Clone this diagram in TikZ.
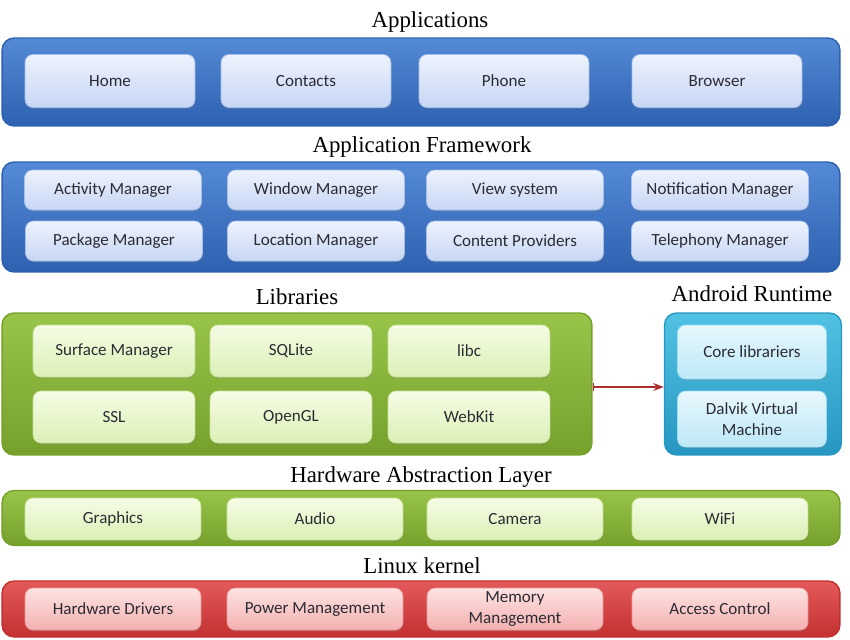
\documentclass[tikz,border=0pt]{standalone}
\usepackage{fontspec}
\setmainfont{Liberation Serif}
\newfontfamily\boxfont{Carlito}
\usepackage{xcolor}
\usetikzlibrary{arrows.meta,shadows}
\definecolor{bleu1}{rgb}{0.33,0.54,0.84}
\definecolor{bleu2}{rgb}{0.18,0.38,0.69}
\definecolor{bleu3}{rgb}{0.93,0.95,0.99}
\definecolor{bleu4}{rgb}{0.78,0.84,0.96}
\definecolor{vert1}{rgb}{0.60,0.77,0.29}
\definecolor{vert2}{rgb}{0.46,0.63,0.17}
\definecolor{vert3}{rgb}{0.96,0.99,0.90}
\definecolor{vert4}{rgb}{0.86,0.94,0.71}
\definecolor{rouge1}{rgb}{0.89,0.35,0.35}
\definecolor{rouge2}{rgb}{0.77,0.19,0.19}
\definecolor{rouge3}{rgb}{0.99,0.89,0.89}
\definecolor{rouge4}{rgb}{0.96,0.69,0.69}
\definecolor{cyan1}{rgb}{0.32,0.76,0.89}
\definecolor{cyan2}{rgb}{0.15,0.59,0.76}
\definecolor{cyan3}{rgb}{0.91,0.97,0.99}
\definecolor{cyan4}{rgb}{0.74,0.91,0.97}
\definecolor{texte}{rgb}{0.17,0.17,0.2}
\definecolor{fleche}{rgb}{0.68,0.18,0.18}
\begin{document}
\begin{tikzpicture}[x=0.02cm,y=-0.02cm,
		band/.style={rounded corners=0.24cm, line width=0.8pt, minimum height=#1},
		blueband/.style={band=#1, draw=bleu2, top color=bleu1, bottom color=bleu2},
		greenband/.style={band=#1, draw=vert2, top color=vert1, bottom color=vert2},
		redband/.style={band=#1, draw=rouge2, top color=rouge1, bottom color=rouge2},
		cyanband/.style={band=#1, draw=cyan2, top color=cyan1, bottom color=cyan2},
		item/.style={rounded corners=0.16cm, line width=0.4pt, align=center, inner sep=1pt,
			font=\boxfont\fontsize{9.7}{12.3}\selectfont, text=texte,
			drop shadow={opacity=0.35, shadow xshift=0.4pt, shadow yshift=-0.8pt}},
		blueitem/.style={item, draw=bleu4!70!bleu1, top color=bleu3, bottom color=bleu4},
		greenitem/.style={item, draw=vert4!70!vert1, top color=vert3, bottom color=vert4},
		reditem/.style={item, draw=rouge4!70!rouge1, top color=rouge3, bottom color=rouge4},
		cyanitem/.style={item, draw=cyan4!70!cyan1, top color=cyan3, bottom color=cyan4},
		layer/.style={font=\fontsize{13}{15}\selectfont, text=black}]
			
			\useasboundingbox (0,0) rectangle (850,640);
			
			% Applications
			\node[layer] (tapp) at (430,22) {Applications};
			\node[blueband=1.76cm, minimum width=16.76cm] (app) at (421,82) {};
			\node[blueitem, minimum width=3.4cm, minimum height=1.06cm] (home) at (110,81) {Home};
			\node[blueitem, minimum width=3.4cm, minimum height=1.06cm] (contacts) at (306,81) {Contacts};
			\node[blueitem, minimum width=3.4cm, minimum height=1.06cm] (phone) at (504,81) {Phone};
			\node[blueitem, minimum width=3.4cm, minimum height=1.06cm] (browser) at (717,81) {Browser};
			
			% Application Framework
			\node[layer] (tfw) at (422,147) {Application Framework};
			\node[blueband=2.2cm, minimum width=16.76cm] (fw) at (421,217) {};
			\node[blueitem, minimum width=3.54cm, minimum height=0.8cm] (activity) at (113,190) {Activity Manager};
			\node[blueitem, minimum width=3.54cm, minimum height=0.8cm] (window) at (316,190) {Window Manager};
			\node[blueitem, minimum width=3.54cm, minimum height=0.8cm] (view) at (515,190) {View system};
			\node[blueitem, minimum width=3.54cm, minimum height=0.8cm] (notif) at (720,190) {Notification Manager};
			\node[blueitem, minimum width=3.54cm, minimum height=0.8cm] (package) at (114,241) {Package Manager};
			\node[blueitem, minimum width=3.54cm, minimum height=0.8cm] (location) at (316,241) {Location Manager};
			\node[blueitem, minimum width=3.54cm, minimum height=0.8cm] (content) at (515,241) {Content Providers};
			\node[blueitem, minimum width=3.54cm, minimum height=0.8cm] (telephony) at (720,241) {Telephony Manager};
			
			% Libraries
			\node[layer] (tlib) at (297,297) {Libraries};
			\node[greenband=2.84cm, minimum width=11.8cm] (lib) at (297,384) {};
			\node[greenitem, minimum width=3.24cm, minimum height=1.04cm] (surface) at (114,351) {Surface Manager};
			\node[greenitem, minimum width=3.24cm, minimum height=1.04cm] (sqlite) at (291,351) {SQLite};
			\node[greenitem, minimum width=3.24cm, minimum height=1.04cm] (libc) at (469,351) {libc};
			\node[greenitem, minimum width=3.24cm, minimum height=1.04cm] (ssl) at (114,417) {SSL};
			\node[greenitem, minimum width=3.24cm, minimum height=1.04cm] (opengl) at (291,417) {OpenGL};
			\node[greenitem, minimum width=3.24cm, minimum height=1.04cm] (webkit) at (469,417) {WebKit};
			
			% Android Runtime
			\node[layer] (trt) at (752,294) {Android Runtime};
			\node[cyanband=2.84cm, minimum width=3.54cm] (rt) at (753,384) {};
			\node[cyanitem, minimum width=2.98cm, minimum height=1.08cm] (core) at (752,352) {Core librariers};
			\node[cyanitem, minimum width=2.98cm, minimum height=1.12cm] (dalvik) at (752,419) {Dalvik Virtual\\Machine};
			
			% Fleche entre Libraries et Android Runtime
			\draw[{Bar[width=5pt]}-{Stealth[length=6pt]}, fleche, line width=0.8pt] (lib.east) ++(0,3) coordinate (a) -- (a -| rt.west);
			
			% Hardware Abstraction Layer
			\node[layer] (thal) at (421,477) {Hardware Abstraction Layer};
			\node[greenband=1.1cm, minimum width=16.76cm] (hal) at (421,518) {};
			\node[greenitem, minimum width=3.52cm, minimum height=0.84cm] (graphics) at (113,519) {Graphics};
			\node[greenitem, minimum width=3.52cm, minimum height=0.84cm] (audio) at (315,519) {Audio};
			\node[greenitem, minimum width=3.52cm, minimum height=0.84cm] (camera) at (515,519) {Camera};
			\node[greenitem, minimum width=3.52cm, minimum height=0.84cm] (wifi) at (720,519) {WiFi};
			
			% Linux kernel
			\node[layer] (tlk) at (422,566) {Linux kernel};
			\node[redband=1.12cm, minimum width=16.76cm] (lk) at (421,609) {};
			\node[reditem, minimum width=3.52cm, minimum height=0.84cm] (drivers) at (113,609) {Hardware Drivers};
			\node[reditem, minimum width=3.52cm, minimum height=0.84cm] (power) at (315,609) {Power Management};
			\node[reditem, minimum width=3.52cm, minimum height=0.84cm] (memory) at (515,609) {Memory\\Management};
			\node[reditem, minimum width=3.52cm, minimum height=0.84cm] (access) at (720,609) {Access Control};
			
		\end{tikzpicture}
\end{document}
